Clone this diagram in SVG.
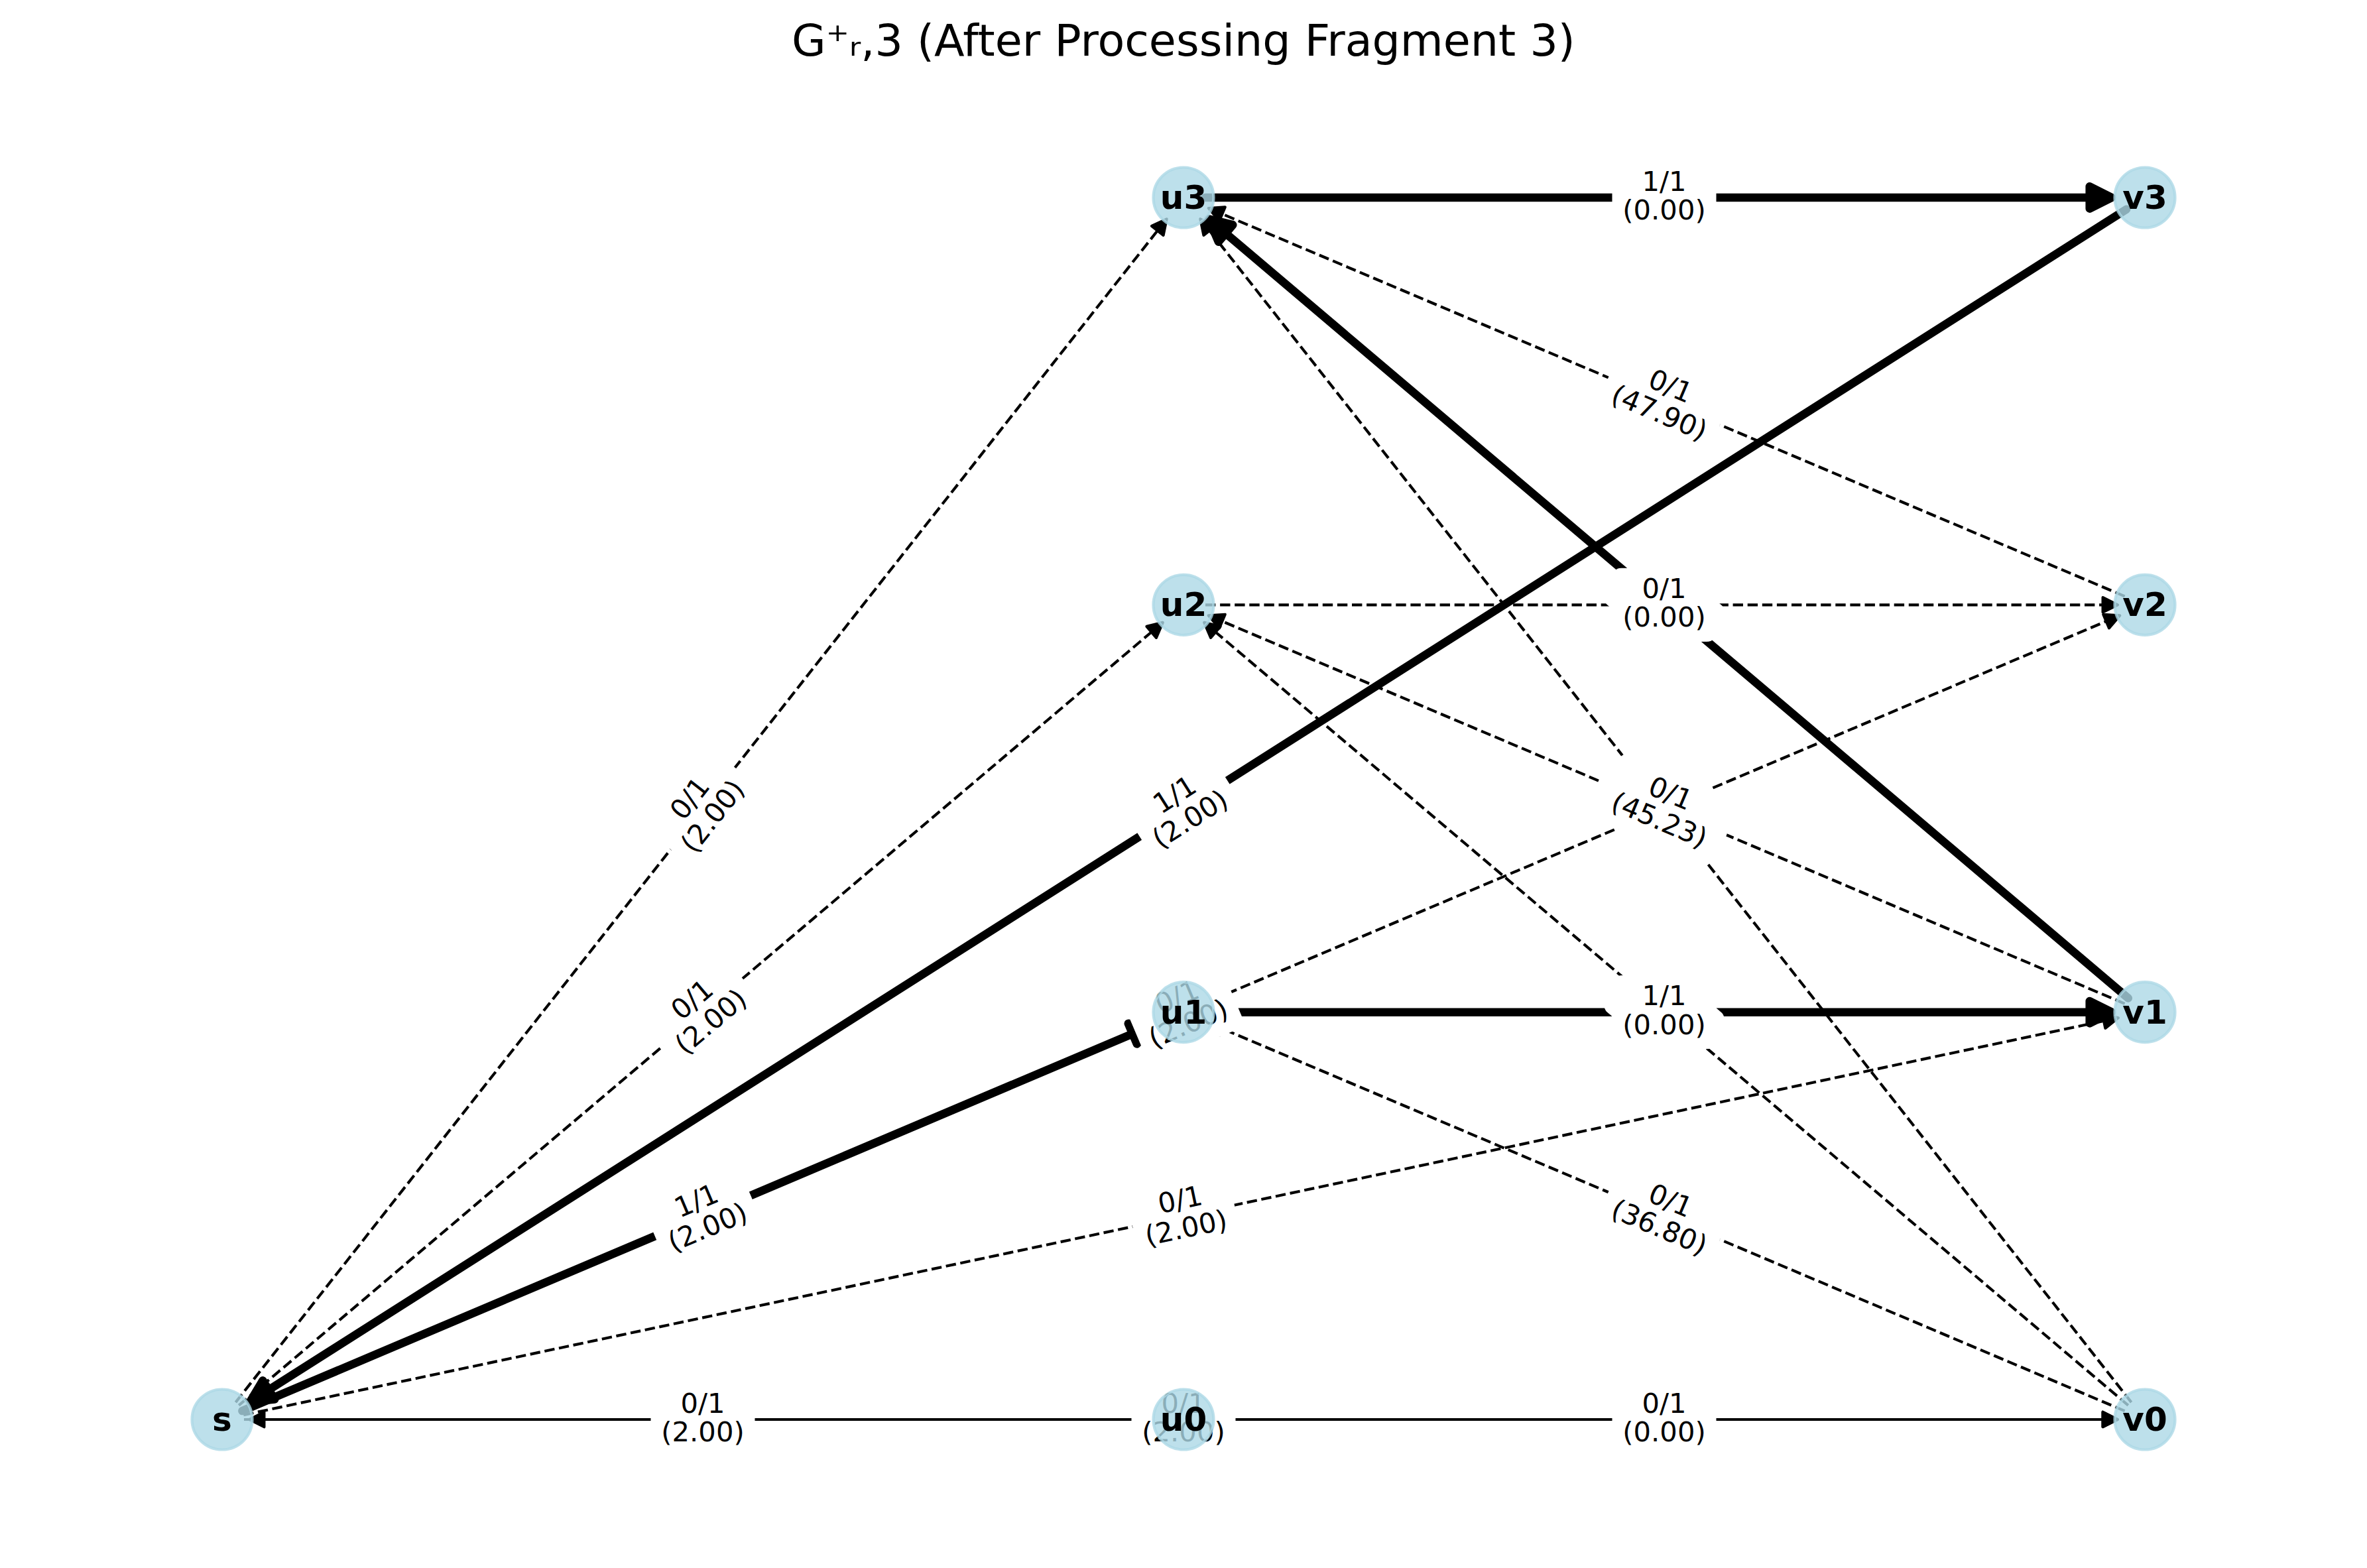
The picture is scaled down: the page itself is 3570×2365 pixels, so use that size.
<svg xmlns="http://www.w3.org/2000/svg" width="3570" height="2365" viewBox="0 0 3570 2365">
  <style>
    text { font-family: "DejaVu Sans", "Liberation Sans", sans-serif; fill: #000; }
    .title { font-size: 66.7px; }
    .edge { fill: none; stroke: #000; }
    .dash { stroke-width: 4.17; stroke-dasharray: 15.4 6.7; }
    .thin { stroke-width: 4.17; }
    .thick { stroke-width: 12.5; stroke-linecap: round; }
    .lbl rect { fill: #fff; stroke: #fff; stroke-width: 1; }
    .lbl text { font-size: 41.7px; text-anchor: middle; }
    .node circle { fill: #add8e6; fill-opacity: 0.8; stroke: #add8e6; stroke-opacity: 0.8; stroke-width: 4.2; }
    .node text { font-size: 50px; font-weight: bold; text-anchor: middle; }
  </style>
  <defs>
    <marker id="head-thin" markerUnits="userSpaceOnUse" orient="auto" overflow="visible" markerWidth="1" markerHeight="1" refX="0" refY="0">
      <path d="M12,0 L-10.4,-11.2 L-10.4,11.2 Z" fill="#000" stroke="#000" stroke-width="4.17" stroke-linejoin="round"/>
    </marker>
    <marker id="head-thick" markerUnits="userSpaceOnUse" orient="auto" overflow="visible" markerWidth="1" markerHeight="1" refX="0" refY="0">
      <path d="M20,0 L-13.3,-16.7 L-13.3,16.7 Z" fill="#000" stroke="#000" stroke-width="12.5" stroke-linejoin="round"/>
    </marker>
  </defs>

  <rect width="3570" height="2365" fill="#fff"/>

  <text class="title" x="1785" y="84" text-anchor="middle">G⁺ᵣ,3 (After Processing Fragment 3)</text>

  <!-- connectors -->
  <g id="edges">
    <path id="e-s-u3" class="edge dash" d="M355.4,2115.1 L1752.2,339.7" marker-end="url(#head-thin)"/>
    <path id="e-s-u2" class="edge dash" d="M360.2,2119.7 L1744.6,946.6" marker-end="url(#head-thin)"/>
    <path id="e-v3-s" class="edge thick" d="M3207.1,315.7 L394.1,2103.5" marker-end="url(#head-thick)"/>
    <path id="e-s-u1" class="edge thick" d="M365.4,2128.1 L1720.5,1554.0" marker-end="url(#head-thick)"/>
    <path id="e-s-v1" class="edge dash" d="M367.3,2134.2 L3183.2,1537.7" marker-end="url(#head-thin)"/>
    <path id="e-s-v2" class="edge dash" d="M365.4,2128.1 L3186.2,933.0" marker-end="url(#head-thin)"/>
    <path id="e-u0-s" class="edge thin" d="M1752,2141 L388,2141" marker-end="url(#head-thin)"/>
    <path id="e-s-v0" class="edge thin" d="M368,2141 L3182,2141" marker-end="url(#head-thin)"/>
    <path id="e-u0-v0" class="edge thin" d="M1818,2141 L3182,2141" marker-end="url(#head-thin)"/>
    <path id="e-u1-v1" class="edge thick" d="M1818,1526.7 L3165,1526.7" marker-end="url(#head-thick)"/>
    <path id="e-u2-v2" class="edge dash" d="M1818,912.3 L3182,912.3" marker-end="url(#head-thin)"/>
    <path id="e-u3-v3" class="edge thick" d="M1818,298 L3165,298" marker-end="url(#head-thick)"/>
    <path id="e-v2-u3" class="edge dash" d="M3204.6,899.4 L1833.8,318.7" marker-end="url(#head-thin)"/>
    <path id="e-v1-u3" class="edge thick" d="M3209.8,1505.4 L1838.4,343.3" marker-end="url(#head-thick)"/>
    <path id="e-v1-u2" class="edge dash" d="M3204.6,1513.8 L1833.8,933.0" marker-end="url(#head-thin)"/>
    <path id="e-v0-u3" class="edge dash" d="M3214.6,2115.1 L1817.8,339.7" marker-end="url(#head-thin)"/>
    <path id="e-v0-u2" class="edge dash" d="M3209.8,2119.7 L1825.4,946.6" marker-end="url(#head-thin)"/>
    <path id="e-v0-u1" class="edge dash" d="M3204.6,2128.1 L1833.8,1547.4" marker-end="url(#head-thin)"/>
  </g>

  <!-- edge labels: flow / cost, rotated along each edge -->
  <g id="edge-labels" class="lbl">
    <!-- boxes of labels stacked underneath others -->
    <g transform="translate(2510,912.3) rotate(40.28)"><rect x="-78" y="-55" width="156" height="110" rx="12.5"/></g>
    <g transform="translate(2510,1219.5) rotate(51.8)"><rect x="-91" y="-55" width="182" height="110" rx="12.5"/></g>
    <g transform="translate(2510,1526.7) rotate(40.28)"><rect x="-78" y="-55" width="156" height="110" rx="12.5"/></g>

    <g transform="translate(1060,1219.5) rotate(-51.8)"><rect x="-78" y="-55" width="156" height="110" rx="12.5"/><text><tspan x="0" y="-10.5">0/1</tspan><tspan x="0" y="33">(2.00)</tspan></text></g>
    <g transform="translate(1060,1526.5) rotate(-40.28)"><rect x="-78" y="-55" width="156" height="110" rx="12.5"/><text><tspan x="0" y="-10.5">0/1</tspan><tspan x="0" y="33">(2.00)</tspan></text></g>
    <g transform="translate(1785,1219.5) rotate(-32.44)"><rect x="-78" y="-55" width="156" height="110" rx="12.5"/><text><tspan x="0" y="-10.5">1/1</tspan><tspan x="0" y="33">(2.00)</tspan></text></g>
    <g transform="translate(1060,1833.8) rotate(-22.96)"><rect x="-78" y="-55" width="156" height="110" rx="12.5"/><text><tspan x="0" y="-10.5">1/1</tspan><tspan x="0" y="33">(2.00)</tspan></text></g>
    <g transform="translate(1785,1833.8) rotate(-11.96)"><rect x="-78" y="-55" width="156" height="110" rx="12.5"/><text><tspan x="0" y="-10.5">0/1</tspan><tspan x="0" y="33">(2.00)</tspan></text></g>
    <g transform="translate(1785,1526.7) rotate(-22.96)"><rect x="-78" y="-55" width="156" height="110" rx="12.5"/><text><tspan x="0" y="-10.5">0/1</tspan><tspan x="0" y="33">(2.00)</tspan></text></g>
    <g transform="translate(1060,2141)"><rect x="-78" y="-55" width="156" height="110" rx="12.5"/><text><tspan x="0" y="-10.5">0/1</tspan><tspan x="0" y="33">(2.00)</tspan></text></g>
    <g transform="translate(1785,2141)"><rect x="-78" y="-55" width="156" height="110" rx="12.5"/><text><tspan x="0" y="-10.5">0/1</tspan><tspan x="0" y="33">(2.00)</tspan></text></g>
    <g transform="translate(2510,2141)"><rect x="-78" y="-55" width="156" height="110" rx="12.5"/><text><tspan x="0" y="-10.5">0/1</tspan><tspan x="0" y="33">(0.00)</tspan></text></g>
    <g transform="translate(2510,1526.7)"><rect x="-78" y="-55" width="156" height="110" rx="12.5"/><text><tspan x="0" y="-10.5">1/1</tspan><tspan x="0" y="33">(0.00)</tspan></text></g>
    <g transform="translate(2510,912.3)"><rect x="-78" y="-55" width="156" height="110" rx="12.5"/><text><tspan x="0" y="-10.5">0/1</tspan><tspan x="0" y="33">(0.00)</tspan></text></g>
    <g transform="translate(2510,298)"><rect x="-78" y="-55" width="156" height="110" rx="12.5"/><text><tspan x="0" y="-10.5">1/1</tspan><tspan x="0" y="33">(0.00)</tspan></text></g>
    <g transform="translate(2510,605.2) rotate(22.96)"><rect x="-91" y="-55" width="182" height="110" rx="12.5"/><text><tspan x="0" y="-10.5">0/1</tspan><tspan x="0" y="33">(47.90)</tspan></text></g>
    <g transform="translate(2510,1219.5) rotate(22.96)"><rect x="-91" y="-55" width="182" height="110" rx="12.5"/><text><tspan x="0" y="-10.5">0/1</tspan><tspan x="0" y="33">(45.23)</tspan></text></g>
    <g transform="translate(2510,1833.8) rotate(22.96)"><rect x="-91" y="-55" width="182" height="110" rx="12.5"/><text><tspan x="0" y="-10.5">0/1</tspan><tspan x="0" y="33">(36.80)</tspan></text></g>
  </g>

  <!-- nodes -->
  <g id="node-s" class="node"><circle cx="335" cy="2141" r="45.5"/><text x="335" y="2158">s</text></g>
  <g id="node-u0" class="node"><circle cx="1785" cy="2141" r="45.5"/><text x="1785" y="2158">u0</text></g>
  <g id="node-u1" class="node"><circle cx="1785" cy="1526.7" r="45.5"/><text x="1785" y="1543.7">u1</text></g>
  <g id="node-u2" class="node"><circle cx="1785" cy="912.3" r="45.5"/><text x="1785" y="929.3">u2</text></g>
  <g id="node-u3" class="node"><circle cx="1785" cy="298" r="45.5"/><text x="1785" y="315">u3</text></g>
  <g id="node-v0" class="node"><circle cx="3235" cy="2141" r="45.5"/><text x="3235" y="2158">v0</text></g>
  <g id="node-v1" class="node"><circle cx="3235" cy="1526.7" r="45.5"/><text x="3235" y="1543.7">v1</text></g>
  <g id="node-v2" class="node"><circle cx="3235" cy="912.3" r="45.5"/><text x="3235" y="929.3">v2</text></g>
  <g id="node-v3" class="node"><circle cx="3235" cy="298" r="45.5"/><text x="3235" y="315">v3</text></g>
</svg>
